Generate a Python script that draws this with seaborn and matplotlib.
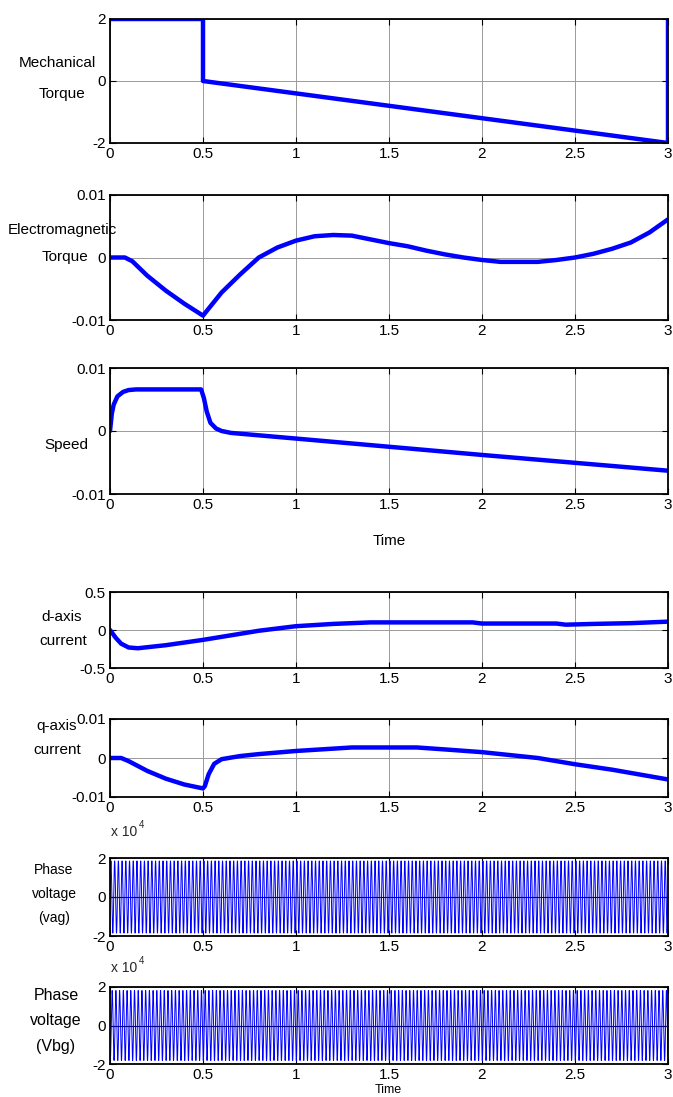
import numpy as np
import pandas as pd
import matplotlib
matplotlib.use("Agg")
import matplotlib.pyplot as plt
import seaborn as sns
from matplotlib import font_manager

# ---------------- data ----------------
X_TICKS = [0, 0.5, 1, 1.5, 2, 2.5, 3]
X_TICK_LABELS = ["0", "0.5", "1", "1.5", "2", "2.5", "3"]

mech_t = [0.0, 0.5, 0.5, 3.0, 3.0]
mech_v = [2.0, 2.0, 0.0, -2.0, 2.0]

te_t = [0.0, 0.08, 0.12, 0.2, 0.3, 0.4, 0.5, 0.6, 0.7, 0.8, 0.9, 1.0, 1.1, 1.2, 1.3,
        1.4, 1.5, 1.6, 1.7, 1.8, 1.9, 2.0, 2.1, 2.2, 2.3, 2.4, 2.5, 2.6, 2.7, 2.8, 2.9, 3.0]
te_v = [0.0, 0.0, -0.0006, -0.0029, -0.0053, -0.0074, -0.0093, -0.0056, -0.0027, 0.0,
        0.0016, 0.0027, 0.0034, 0.0036, 0.0035, 0.0029, 0.0023, 0.0018, 0.0011, 0.0005,
        0.0, -0.0004, -0.0007, -0.0007, -0.0007, -0.0004, 0.0, 0.0006, 0.0014, 0.0024,
        0.0040, 0.0061]

spd_t = [0.0, 0.01, 0.02, 0.04, 0.07, 0.1, 0.14, 0.49, 0.505, 0.52, 0.54, 0.57, 0.6,
         0.65, 1.0, 2.0, 3.0]
spd_v = [0.0, 0.0028, 0.0042, 0.0055, 0.0062, 0.0065, 0.0066, 0.0066, 0.0052, 0.0031,
         0.0013, 0.0004, 0.0, -0.0003, -0.0012, -0.0038, -0.0063]

id_t = [0.0, 0.03, 0.06, 0.1, 0.15, 0.3, 0.5, 0.6, 0.7, 0.8, 0.9, 1.0, 1.2, 1.4, 1.6,
        1.95, 2.0, 2.4, 2.45, 2.6, 2.8, 3.0]
id_v = [0.0, -0.1, -0.18, -0.23, -0.24, -0.2, -0.13, -0.09, -0.05, -0.01, 0.02, 0.05,
        0.08, 0.1, 0.1, 0.1, 0.085, 0.085, 0.07, 0.08, 0.09, 0.11]

iq_t = [0.0, 0.06, 0.1, 0.2, 0.3, 0.4, 0.5, 0.51, 0.53, 0.56, 0.6, 0.7, 0.8, 1.0, 1.2,
        1.3, 1.5, 1.65, 1.8, 2.0, 2.2, 2.3, 2.5, 2.7, 3.0]
iq_v = [0.0, 0.0, -0.0008, -0.0033, -0.0053, -0.0068, -0.0078, -0.0072, -0.0042,
        -0.0015, -0.0003, 0.0005, 0.001, 0.0018, 0.0024, 0.0027, 0.0027, 0.0027, 0.0022,
        0.0015, 0.0005, 0.0, -0.0016, -0.003, -0.0055]

VOLT_FREQ = 50.0          # Hz
VAG_AMP = 1.85e4
VBG_AMP = 1.82e4
VAG_PHASE = 0.0
VBG_PHASE = -2 * np.pi / 3
VOLT_DT = 2e-4

# ---------------- style ----------------
sns.set_theme(style="white")
names = {f.name for f in font_manager.fontManager.ttflist}
if "Liberation Sans Narrow" in names:
    FAM = ["Liberation Sans Narrow", "DejaVu Sans"]
    FS = 12.5
else:
    FAM = ["Liberation Sans", "DejaVu Sans"]
    FS = 11
plt.rcParams["font.family"] = FAM
plt.rcParams["axes.unicode_minus"] = False

W, H = 673, 1097
fig = plt.figure(figsize=(W / 100, H / 100), dpi=100)
BLUE = "#0000ff"
L, R = 110, 668


def make_ax(top, bottom):
    return fig.add_axes([L / W, 1 - bottom / H, (R - L) / W, (bottom - top) / H])


def style_ax(ax, yticks, ylabels, ylim):
    ax.set_xlim(0, 3)
    ax.set_ylim(*ylim)
    ax.set_xticks(X_TICKS)
    ax.set_xticklabels(X_TICK_LABELS)
    ax.set_yticks(yticks)
    ax.set_yticklabels(ylabels)
    ax.grid(True, color="#9a9a9a", lw=0.7)
    ax.set_axisbelow(True)
    for s in ax.spines.values():
        s.set_color("black")
        s.set_linewidth(1.3)
    ax.tick_params(direction="in", length=4, width=0.8, labelsize=FS, pad=3,
                   top=True, right=True, bottom=True, left=True, colors="black")
    ax.set_xlabel("")
    ax.set_ylabel("")


def label(x, y, s, fs=FS):
    fig.text(x / W, 1 - y / H, s, ha="center", va="center", fontsize=fs, color="black")


def thick(ax, t, v):
    df = pd.DataFrame({"t": t, "v": v})
    sns.lineplot(data=df, x="t", y="v", ax=ax, color=BLUE, lw=3.2, estimator=None,
                 sort=False, legend=False)


# Panel 1: mechanical torque
ax1 = make_ax(19, 143)
thick(ax1, mech_t, mech_v)
style_ax(ax1, [-2, 0, 2], ["-2", "0", "2"], (-2, 2))
label(57, 63, "Mechanical")
label(62, 94, "Torque")

# Panel 2: electromagnetic torque
ax2 = make_ax(195, 320)
thick(ax2, te_t, te_v)
style_ax(ax2, [-0.01, 0, 0.01], ["-0.01", "0", "0.01"], (-0.01, 0.01))
label(62, 230, "Electromagnetic")
label(65, 257, "Torque")

# Panel 3: speed
ax3 = make_ax(368, 494)
thick(ax3, spd_t, spd_v)
style_ax(ax3, [-0.01, 0, 0.01], ["-0.01", "0", "0.01"], (-0.01, 0.01))
label(66, 445, "Speed")
label(389, 541, "Time")

# Panel 4: d-axis current
ax4 = make_ax(592, 668)
thick(ax4, id_t, id_v)
style_ax(ax4, [-0.5, 0, 0.5], ["-0.5", "0", "0.5"], (-0.5, 0.5))
label(62, 617, "d-axis")
label(63, 641, "current")

# Panel 5: q-axis current
ax5 = make_ax(719, 797)
thick(ax5, iq_t, iq_v)
style_ax(ax5, [-0.01, 0, 0.01], ["-0.01", "0", "0.01"], (-0.01, 0.01))
label(57, 726, "q-axis")
label(57, 750, "current")

# Panels 6/7: phase voltages
tv = np.arange(0, 3.0 + VOLT_DT / 2, VOLT_DT)
vag = VAG_AMP * np.sin(2 * np.pi * VOLT_FREQ * tv + VAG_PHASE)
vbg = VBG_AMP * np.sin(2 * np.pi * VOLT_FREQ * tv + VBG_PHASE)

ax6 = make_ax(858, 936)
sns.lineplot(x=tv, y=vag, ax=ax6, color=BLUE, lw=0.7, estimator=None, sort=False)
style_ax(ax6, [-2e4, 0, 2e4], ["-2", "0", "2"], (-2e4, 2e4))
ax6.axhline(0, color="#00008b", lw=0.8, zorder=3)
label(54, 870, "Phase", FS - 1)
label(54, 894, "voltage", FS - 1)
label(54, 918, "(vag)", FS - 1)
fig.text(111 / W, 1 - 832 / H, "x 10", ha="left", va="center", fontsize=FS - 1)
fig.text(139 / W, 1 - 825 / H, "4", ha="left", va="center", fontsize=FS - 4)

ax7 = make_ax(987, 1064)
sns.lineplot(x=tv, y=vbg, ax=ax7, color=BLUE, lw=0.7, estimator=None, sort=False)
style_ax(ax7, [-2e4, 0, 2e4], ["-2", "0", "2"], (-2e4, 2e4))
ax7.axhline(0, color="#00008b", lw=0.8, zorder=3)
label(56, 996, "Phase", FS + 0.5)
label(56, 1021, "voltage", FS + 0.5)
label(56, 1046, "(Vbg)", FS + 0.5)
fig.text(111 / W, 1 - 968 / H, "x 10", ha="left", va="center", fontsize=FS - 1)
fig.text(139 / W, 1 - 961 / H, "4", ha="left", va="center", fontsize=FS - 4)
label(388, 1090, "Time", FS - 2)

fig.savefig("out.png", dpi=100)
